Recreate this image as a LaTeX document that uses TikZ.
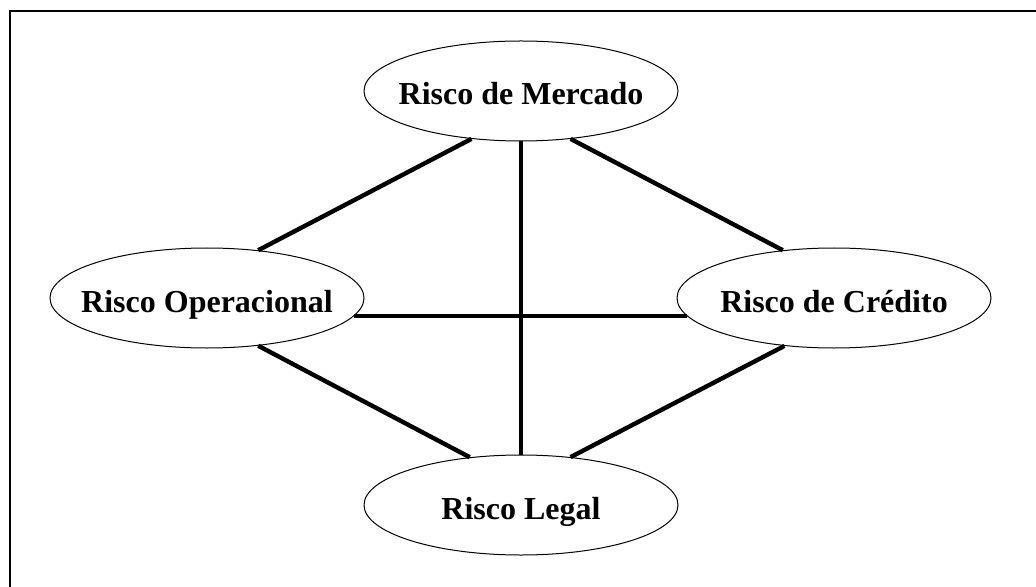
\documentclass[tikz,border=0pt]{standalone}
\usepackage{fontspec}
\setmainfont{Liberation Serif}
\usepackage{tikz}
\usetikzlibrary{shapes}

\begin{document}
\begin{tikzpicture}[x=0.5pt,y=-0.5pt,
	risco/.style={ellipse,draw,line width=0.5pt,inner sep=-30pt,
		minimum width=157pt,minimum height=50pt,
		text height=14pt,text depth=0pt,
		font=\fontsize{16}{19}\selectfont\bfseries},
	elo/.style={line width=2.2pt}]
	
	\useasboundingbox (0,0) rectangle (1036,587);
	
	% Draw frame
	\draw[line width=1pt] (1036,11) -- (10,11) -- (10,587);
	
	% Draw the four risks
	\node[risco] (mercado) at (521,91) {Risco de Mercado};
	\node[risco] (operacional) at (207,298) {Risco Operacional};
	\node[risco] (credito) at (834,298) {Risco de Crédito};
	\node[risco] (legal) at (521,505) {Risco Legal};
	
	% Draw links
	\draw[elo] (mercado.224) -- (operacional.43);
	\draw[elo] (mercado.316) -- (credito.137);
	\draw[elo] (mercado.south) -- (legal.north);
	\draw[elo] (operacional.-7) -- (credito.187);
	\draw[elo] (operacional.317) -- (legal.137);
	\draw[elo] (credito.224) -- (legal.44);
	
\end{tikzpicture}
\end{document}
